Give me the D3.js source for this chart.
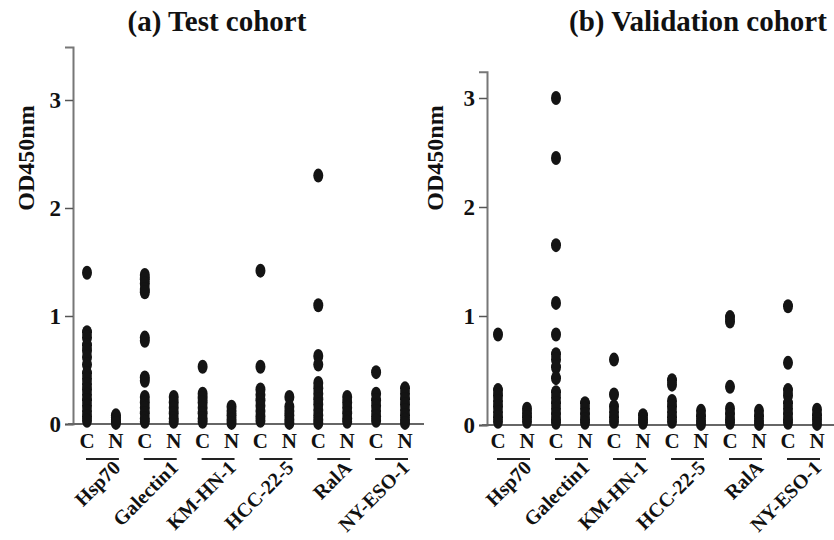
<!DOCTYPE html>
<html>
<head>
<meta charset="utf-8">
<script src="https://cdn.jsdelivr.net/npm/d3@7"></script>
<style>
  body { margin: 0; background: #fff; }
  text { font-family: "Liberation Serif", "Times New Roman", serif; font-weight: bold; fill: #111; }
</style>
</head>
<body>
<script>
const markers = ['Hsp70', 'Galectin1', 'KM-HN-1', 'HCC-22-5', 'RalA', 'NY-ESO-1'],
    groups = ['C', 'N'],
    yTicks = [0, 1, 2, 3];

// OD450nm readings per marker, cancer (C) and normal (N)
const testC = [
  [1.40, 0.85, 0.80, 0.73, 0.68, 0.62, 0.55, 0.47, 0.42, 0.37, 0.32, 0.27, 0.22, 0.17, 0.12, 0.07, 0.03],
  [1.38, 1.34, 1.30, 1.25, 1.22, 0.80, 0.77, 0.43, 0.40, 0.25, 0.20, 0.15, 0.10, 0.05, 0.02],
  [0.53, 0.28, 0.24, 0.20, 0.15, 0.10, 0.05, 0.02],
  [1.42, 0.53, 0.32, 0.27, 0.22, 0.17, 0.12, 0.07, 0.03],
  [2.30, 1.10, 0.63, 0.55, 0.38, 0.33, 0.28, 0.23, 0.18, 0.13, 0.08, 0.04, 0.01],
  [0.48, 0.28, 0.22, 0.17, 0.12, 0.07, 0.03]
];
const testN = [
  [0.08, 0.06, 0.04, 0.02, 0.01],
  [0.25, 0.20, 0.15, 0.10, 0.05, 0.02],
  [0.16, 0.12, 0.08, 0.04, 0.01],
  [0.25, 0.16, 0.12, 0.08, 0.04, 0.01],
  [0.25, 0.20, 0.15, 0.10, 0.05, 0.02],
  [0.33, 0.28, 0.23, 0.18, 0.13, 0.08, 0.04, 0.01]
];
const validC = [
  [0.83, 0.32, 0.27, 0.22, 0.17, 0.12, 0.07, 0.03],
  [3.00, 2.45, 1.65, 1.12, 0.83, 0.65, 0.60, 0.53, 0.43, 0.30, 0.25, 0.20, 0.15, 0.10, 0.05, 0.02],
  [0.60, 0.28, 0.17, 0.12, 0.07, 0.03],
  [0.41, 0.37, 0.22, 0.17, 0.12, 0.07, 0.03],
  [0.99, 0.95, 0.35, 0.15, 0.10, 0.05, 0.02],
  [1.09, 0.57, 0.32, 0.27, 0.20, 0.15, 0.10, 0.05, 0.02]
];
const validN = [
  [0.15, 0.11, 0.07, 0.03],
  [0.20, 0.15, 0.10, 0.05, 0.02],
  [0.09, 0.05, 0.02],
  [0.13, 0.08, 0.04, 0.01],
  [0.13, 0.08, 0.04, 0.01],
  [0.14, 0.09, 0.05, 0.01]
];

const width = 834, height = 540;

const svg = d3.select('body').append('svg')
    .attr('width', width)
    .attr('height', height);

const keys = [];
markers.forEach(m => groups.forEach(g => keys.push(m + '|' + g)));

function panel(opt) {
  const g = svg.append('g');

  const x = d3.scalePoint()
      .domain(keys)
      .range([opt.x0, opt.x1]);

  const y = d3.scaleLinear()
      .domain([0, opt.yMax])
      .range([opt.y0, opt.y0 - opt.yMax * opt.unit]);

  // title
  g.append('text')
      .attr('x', opt.titleX)
      .attr('y', 31)
      .attr('text-anchor', 'middle')
      .style('font-size', '29px')
      .text(opt.title);

  // y label
  g.append('text')
      .attr('transform', 'translate(' + opt.labelX + ',158) rotate(-90)')
      .attr('text-anchor', 'middle')
      .attr('dy', '0.35em')
      .style('font-size', '24px')
      .text('OD450nm');

  const yAxis = d3.axisLeft(y)
      .tickValues(yTicks)
      .tickFormat(d3.format('d'))
      .tickSizeOuter(0)
      .tickSize(8)
      .tickPadding(4);

  const ax = g.append('g')
      .attr('transform', 'translate(' + opt.axisX + ',0)')
      .call(yAxis);
  ax.select('.domain').attr('stroke', '#777').attr('stroke-width', 2);
  ax.selectAll('.tick line').attr('stroke', '#555').attr('stroke-width', 1.5);
  ax.selectAll('.tick text')
      .style('font-size', '23px')
      .style('font-family', '"Liberation Serif", serif')
      .attr('fill', '#111');

  // baseline
  g.append('line')
      .attr('x1', opt.baseX0)
      .attr('x2', opt.baseX1)
      .attr('y1', y(0))
      .attr('y2', y(0))
      .attr('stroke', '#666')
      .attr('stroke-width', 2);

  // points
  const pts = [];
  markers.forEach((m, i) => {
    opt.c[i].forEach(v => pts.push({k: m + '|C', v: v}));
    opt.n[i].forEach(v => pts.push({k: m + '|N', v: v}));
  });

  g.selectAll('.dot')
      .data(pts)
    .enter().append('ellipse')
      .attr('class', 'dot')
      .attr('cx', d => x(d.k))
      .attr('cy', d => y(d.v))
      .attr('rx', 5)
      .attr('ry', 7)
      .attr('fill', '#141414');

  // C / N labels
  g.selectAll('.grp')
      .data(keys)
    .enter().append('text')
      .attr('class', 'grp')
      .attr('x', d => x(d))
      .attr('y', 448)
      .attr('text-anchor', 'middle')
      .style('font-size', '21px')
      .text(d => d.split('|')[1]);

  // underlines
  g.selectAll('.under')
      .data(markers)
    .enter().append('line')
      .attr('class', 'under')
      .attr('x1', d => x(d + '|C') - 1)
      .attr('x2', d => x(d + '|N') + 3)
      .attr('y1', 459)
      .attr('y2', 459)
      .attr('stroke', '#222')
      .attr('stroke-width', 2);

  // marker names
  g.selectAll('.mk')
      .data(markers)
    .enter().append('text')
      .attr('class', 'mk')
      .attr('text-anchor', 'end')
      .attr('transform', d => {
        const mx = (x(d + '|C') + x(d + '|N')) / 2 + 20;
        return 'translate(' + mx + ',469) rotate(-45)';
      })
      .style('font-size', '20px')
      .text(d => d);
}

panel({
  title: '(a)  Test cohort', titleX: 217, labelX: 26,
  axisX: 73, x0: 87, x1: 405, baseX0: 68, baseX1: 424,
  y0: 424, unit: 108, yMax: 3.49,
  c: testC, n: testN
});

panel({
  title: '(b) Validation cohort', titleX: 698, labelX: 435,
  axisX: 487, x0: 498, x1: 817, baseX0: 482, baseX1: 834,
  y0: 425, unit: 109, yMax: 3.24,
  c: validC, n: validN
});
</script>
</body>
</html>
